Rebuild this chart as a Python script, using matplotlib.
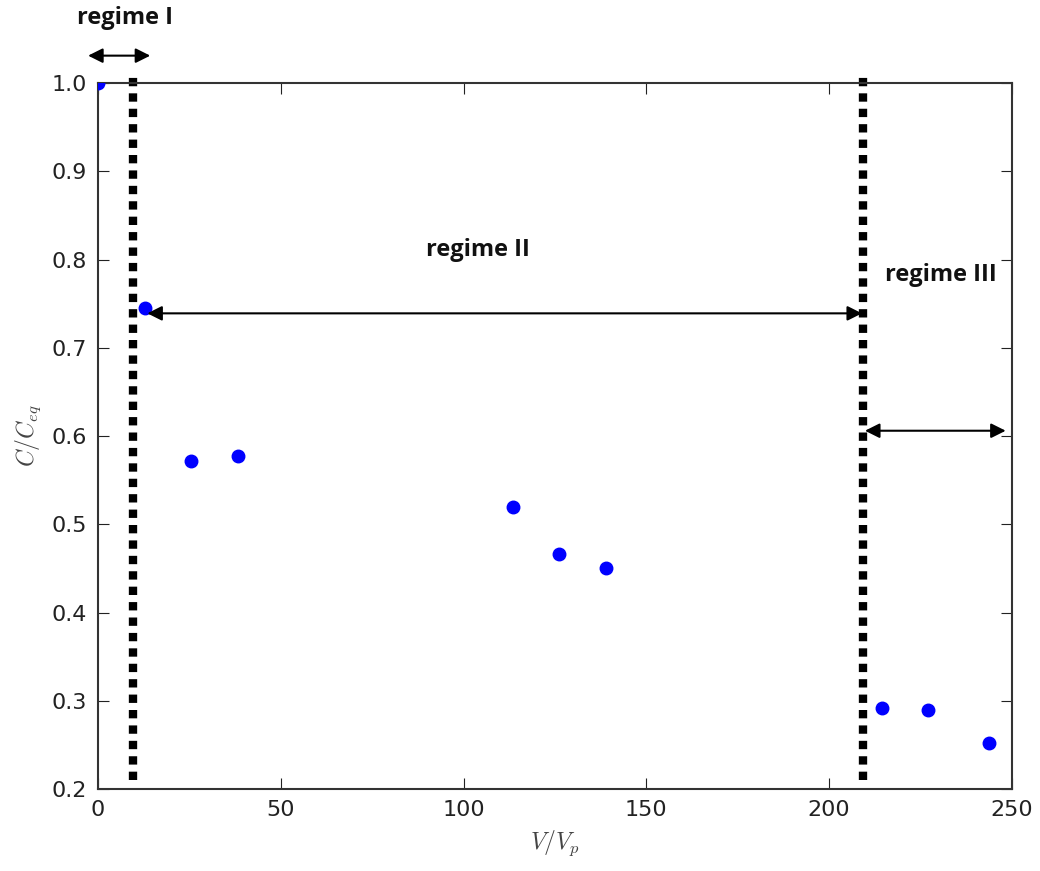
import matplotlib.pyplot as plt
import numpy as np

plt.rcParams['mathtext.fontset'] = 'cm'

# datos
v_vp = [0, 12.9, 25.4, 38.3, 113.5, 126.1, 139.0, 214.4, 227.0, 243.7]
c_ceq = [1.0, 0.745, 0.572, 0.577, 0.520, 0.466, 0.450, 0.292, 0.290, 0.252]

# limites de regimen
limites = [9.6, 209.2]
regimenes = ['regime I', 'regime II', 'regime III']

fig = plt.figure(figsize=(10.4, 8.71), dpi=100)
ax = fig.add_axes([0.0942, 0.0941, 0.8788, 0.8106])

ax.plot(v_vp, c_ceq, 'o', color='b', mec='b', markersize=9, zorder=3)

for xl in limites:
    ax.plot([xl, xl], [0.21, 1.007], color='k', lw=6, dashes=(1, 0.85),
            solid_capstyle='butt', dash_capstyle='butt', clip_on=False, zorder=2)

flecha = dict(arrowstyle='<|-|>', color='k', lw=1.5, mutation_scale=22, shrinkA=0, shrinkB=0)
ax.annotate('', xy=(-2.7, 1.031), xytext=(14.3, 1.031), arrowprops=flecha, annotation_clip=False)
ax.annotate('', xy=(13.5, 0.739), xytext=(209.0, 0.739), arrowprops=flecha, annotation_clip=False)
ax.annotate('', xy=(209.8, 0.606), xytext=(248.3, 0.606), arrowprops=flecha, annotation_clip=False)

fuente = dict(fontsize=17, fontweight='bold', family='Open Sans', color='#111111', ha='center', va='center')
ax.text(7.5, 1.074, regimenes[0], clip_on=False, **fuente)
ax.text(104.0, 0.811, regimenes[1], **fuente)
ax.text(230.5, 0.782, regimenes[2], **fuente)

ax.set_xlim(0, 250)
ax.set_ylim(0.2, 1.0)
ax.set_xticks([0, 50, 100, 150, 200, 250])
ax.set_yticks(np.arange(0.2, 1.01, 0.1))
ax.set_yticklabels(['0.2', '0.3', '0.4', '0.5', '0.6', '0.7', '0.8', '0.9', '1.0'])
ax.tick_params(direction='in', top=True, right=True, labelsize=16, length=8, colors='#222222', pad=8)
for lado in ax.spines.values():
    lado.set_color('#333333')
    lado.set_linewidth(1.5)

ax.set_xlabel('$V/V_p$', fontsize=17, color='#444444', labelpad=6)
ax.set_ylabel('$C/C_{eq}$', fontsize=17, color='#444444', labelpad=6)

plt.savefig('out.png', dpi=100)
